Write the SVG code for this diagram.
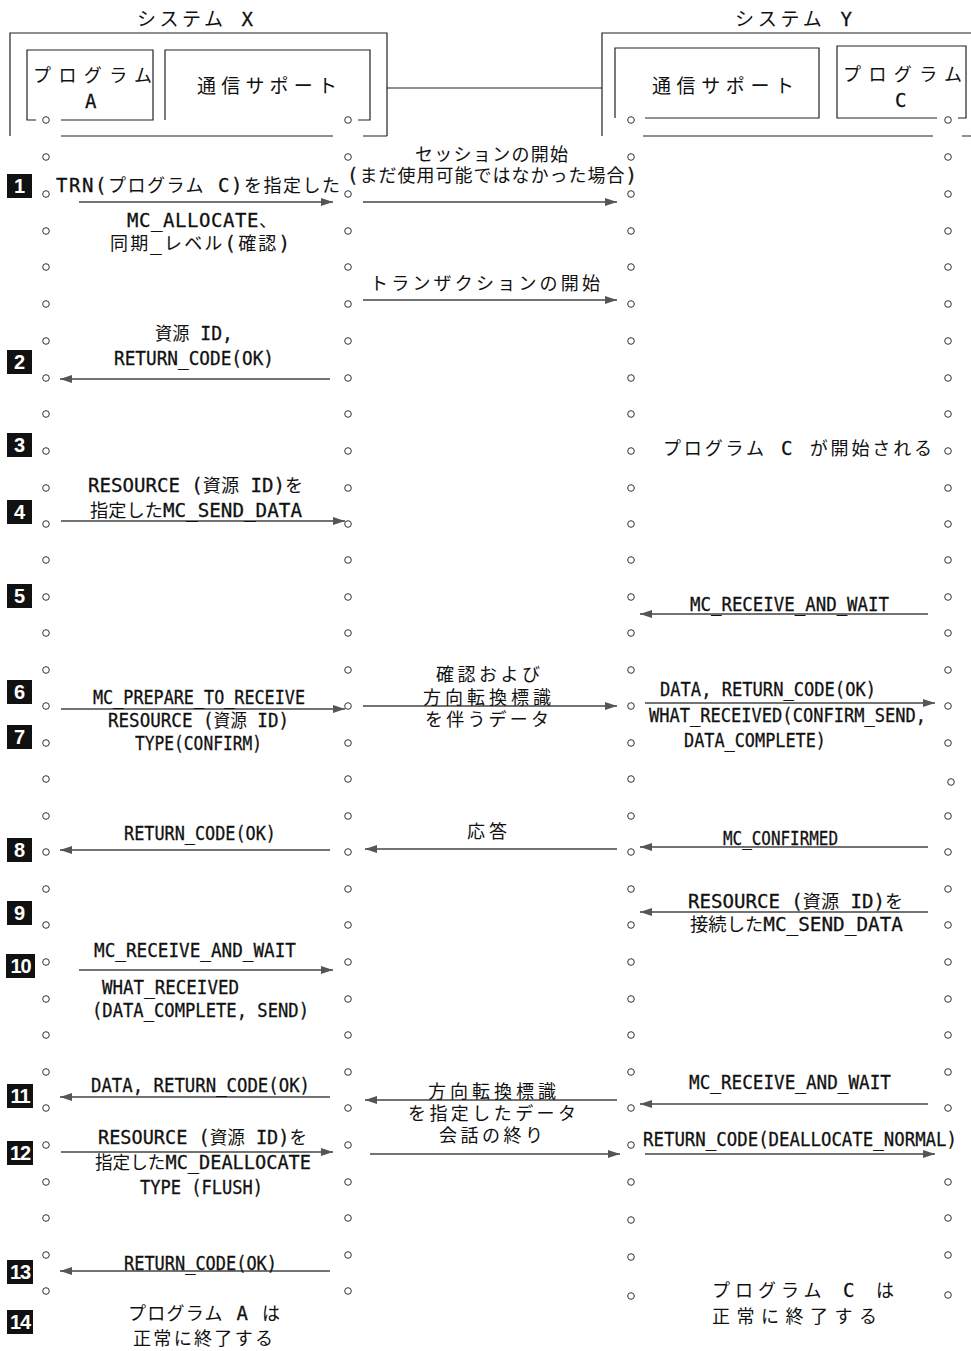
<svg xmlns="http://www.w3.org/2000/svg" width="971" height="1351" viewBox="0 0 971 1351">
<style>
.bg{fill:#fff}
.box{fill:none;stroke:#222;stroke-width:1.2}
.t{font-family:"Noto Sans CJK JP",sans-serif;font-size:18px;fill:#111}
.l{font-family:"DejaVu Sans Mono","Noto Sans CJK JP",monospace;font-size:19px;fill:#111;stroke:#111;stroke-width:0.3}
.j{font-family:"Noto Sans CJK JP",sans-serif;font-size:18px;stroke:none}
.a{stroke:#444;stroke-width:1.3;fill:none;marker-end:url(#ah)}
.dot{fill:#fff;stroke:#333;stroke-width:1}
.badge{fill:#111}
.bn{font-family:"Liberation Sans","Noto Sans",sans-serif;font-weight:bold;font-size:20px;fill:#fff;text-anchor:middle}
</style>
<defs>
<marker id="ah" markerUnits="userSpaceOnUse" markerWidth="13" markerHeight="9" refX="12" refY="4.5" orient="auto">
<path d="M0,0.5 L12,4.5 L0,8.5 z" fill="#555"/>
</marker>
<circle id="d" r="3.3" class="dot"/>
</defs>
<rect class="bg" x="0" y="0" width="971" height="1351"/>

<g id="systemX">
<text class="l" x="137" y="26" textLength="116" lengthAdjust="spacing"><tspan class="j" style="font-size:19px">システム</tspan> X</text>
<path class="box" d="M10,136 V33 H387 V136 M61,136 H333 M363,136 H387"/>
</g>
<g id="programA">
<path class="box" d="M36,120 H27 V50 H153 V120 H61"/>
<text class="t" x="33" y="82" textLength="119">プログラム</text>
<text class="l" x="85" y="108">A</text>
<use href="#d" x="46" y="120"/>
</g>
<g id="commX">
<path class="box" d="M165,120 V50 H370 V120 H358"/>
<text class="t" style="font-size:19px" x="197" y="93" textLength="140">通信サポート</text>
<use href="#d" x="348" y="120"/>
</g>
<g id="systemY">
<text class="l" x="735" y="26" textLength="117" lengthAdjust="spacing"><tspan class="j" style="font-size:19px">システム</tspan> Y</text>
<path class="box" d="M602,136 V33 H971 M643,136 H933 M962,136 H971"/>
</g>
<g id="commY">
<path class="box" d="M615,118 V48 H819 V118 H645"/>
<text class="t" style="font-size:19px" x="652" y="93" textLength="142">通信サポート</text>
<use href="#d" x="631" y="120"/>
</g>
<g id="programC">
<path class="box" d="M937,118 H837 V46 H966 V118 H958"/>
<text class="t" x="843" y="81" textLength="119">プログラム</text>
<text class="l" x="895" y="107">C</text>
<use href="#d" x="948" y="120"/>
</g>

<g id="lifelines">
<use href="#d" x="46" y="157"/><use href="#d" x="348" y="157"/><use href="#d" x="631" y="157"/><use href="#d" x="948" y="157"/>
<use href="#d" x="46" y="194"/><use href="#d" x="348" y="194"/><use href="#d" x="631" y="194"/><use href="#d" x="948" y="194"/>
<use href="#d" x="46" y="231"/><use href="#d" x="348" y="231"/><use href="#d" x="631" y="231"/><use href="#d" x="948" y="231"/>
<use href="#d" x="46" y="267"/><use href="#d" x="348" y="267"/><use href="#d" x="631" y="267"/><use href="#d" x="948" y="267"/>
<use href="#d" x="46" y="304"/><use href="#d" x="348" y="304"/><use href="#d" x="631" y="304"/><use href="#d" x="948" y="304"/>
<use href="#d" x="46" y="341"/><use href="#d" x="348" y="341"/><use href="#d" x="631" y="341"/><use href="#d" x="948" y="341"/>
<use href="#d" x="46" y="378"/><use href="#d" x="348" y="378"/><use href="#d" x="631" y="378"/><use href="#d" x="948" y="378"/>
<use href="#d" x="46" y="414"/><use href="#d" x="348" y="414"/><use href="#d" x="631" y="414"/><use href="#d" x="948" y="414"/>
<use href="#d" x="46" y="451"/><use href="#d" x="348" y="451"/><use href="#d" x="631" y="451"/><use href="#d" x="948" y="451"/>
<use href="#d" x="46" y="488"/><use href="#d" x="348" y="488"/><use href="#d" x="631" y="488"/><use href="#d" x="948" y="488"/>
<use href="#d" x="46" y="524"/><use href="#d" x="348" y="524"/><use href="#d" x="631" y="524"/><use href="#d" x="948" y="524"/>
<use href="#d" x="46" y="560"/><use href="#d" x="348" y="560"/><use href="#d" x="631" y="560"/><use href="#d" x="948" y="560"/>
<use href="#d" x="46" y="597"/><use href="#d" x="348" y="597"/><use href="#d" x="631" y="597"/><use href="#d" x="948" y="597"/>
<use href="#d" x="46" y="633"/><use href="#d" x="348" y="633"/><use href="#d" x="631" y="633"/><use href="#d" x="948" y="633"/>
<use href="#d" x="46" y="670"/><use href="#d" x="348" y="670"/><use href="#d" x="631" y="670"/><use href="#d" x="948" y="670"/>
<use href="#d" x="46" y="706"/><use href="#d" x="348" y="706"/><use href="#d" x="631" y="706"/><use href="#d" x="948" y="706"/>
<use href="#d" x="46" y="743"/><use href="#d" x="348" y="743"/><use href="#d" x="631" y="743"/><use href="#d" x="948" y="743"/>
<use href="#d" x="46" y="779"/><use href="#d" x="348" y="779"/><use href="#d" x="631" y="779"/><use href="#d" x="951" y="782"/>
<use href="#d" x="46" y="816"/><use href="#d" x="348" y="816"/><use href="#d" x="631" y="816"/><use href="#d" x="948" y="816"/>
<use href="#d" x="46" y="852"/><use href="#d" x="348" y="852"/><use href="#d" x="631" y="852"/><use href="#d" x="948" y="852"/>
<use href="#d" x="46" y="889"/><use href="#d" x="348" y="889"/><use href="#d" x="631" y="889"/><use href="#d" x="948" y="889"/>
<use href="#d" x="46" y="925"/><use href="#d" x="348" y="925"/><use href="#d" x="631" y="925"/><use href="#d" x="948" y="925"/>
<use href="#d" x="46" y="962"/><use href="#d" x="348" y="962"/><use href="#d" x="631" y="962"/><use href="#d" x="948" y="962"/>
<use href="#d" x="46" y="999"/><use href="#d" x="348" y="999"/><use href="#d" x="631" y="999"/><use href="#d" x="948" y="999"/>
<use href="#d" x="46" y="1035"/><use href="#d" x="348" y="1035"/><use href="#d" x="631" y="1035"/><use href="#d" x="948" y="1035"/>
<use href="#d" x="46" y="1072"/><use href="#d" x="348" y="1072"/><use href="#d" x="631" y="1072"/><use href="#d" x="948" y="1072"/>
<use href="#d" x="46" y="1108"/><use href="#d" x="348" y="1108"/><use href="#d" x="631" y="1108"/><use href="#d" x="948" y="1108"/>
<use href="#d" x="46" y="1145"/><use href="#d" x="348" y="1145"/><use href="#d" x="631" y="1145"/>
<use href="#d" x="46" y="1182"/><use href="#d" x="348" y="1182"/><use href="#d" x="631" y="1182"/><use href="#d" x="948" y="1182"/>
<use href="#d" x="46" y="1218"/><use href="#d" x="348" y="1218"/><use href="#d" x="631" y="1220"/><use href="#d" x="948" y="1218"/>
<use href="#d" x="46" y="1255"/><use href="#d" x="348" y="1255"/><use href="#d" x="631" y="1257"/><use href="#d" x="948" y="1255"/>
<use href="#d" x="46" y="1291"/><use href="#d" x="348" y="1291"/><use href="#d" x="631" y="1296"/><use href="#d" x="948" y="1295"/>
</g>

<g id="connectors">
<line class="box" x1="387" y1="88" x2="602" y2="88"/>
<line class="a" x1="79" y1="202" x2="333" y2="202"/>
<line class="a" x1="363" y1="202" x2="617" y2="202"/>
<line class="a" x1="363" y1="300" x2="617" y2="300"/>
<line class="a" x1="330" y1="379" x2="60" y2="379"/>
<line class="a" x1="61" y1="521" x2="345" y2="521"/>
<line class="a" x1="928" y1="614" x2="640" y2="614"/>
<line class="a" x1="61" y1="709" x2="345" y2="709"/>
<line class="a" x1="363" y1="706" x2="617" y2="706"/>
<line class="a" x1="645" y1="703" x2="935" y2="703"/>
<line class="a" x1="330" y1="850" x2="60" y2="850"/>
<line class="a" x1="617" y1="849" x2="365" y2="849"/>
<line class="a" x1="928" y1="847" x2="640" y2="847"/>
<line class="a" x1="928" y1="912" x2="640" y2="912"/>
<line class="a" x1="79" y1="970" x2="333" y2="970"/>
<line class="a" x1="330" y1="1097" x2="60" y2="1097"/>
<line class="a" x1="617" y1="1100" x2="365" y2="1100"/>
<line class="a" x1="928" y1="1104" x2="640" y2="1104"/>
<line class="a" x1="61" y1="1152" x2="333" y2="1152"/>
<line class="a" x1="370" y1="1154" x2="620" y2="1154"/>
<line class="a" x1="645" y1="1154" x2="935" y2="1154"/>
<line class="a" x1="330" y1="1271" x2="60" y2="1271"/>
</g>

<g id="labels">
<text class="t" x="415" y="161" textLength="153">セッションの開始</text>
<text class="l" x="347" y="182" textLength="290" lengthAdjust="spacing">(<tspan class="j">まだ使用可能ではなかった場合</tspan>)</text>
<text class="l" x="56" y="192" textLength="284" lengthAdjust="spacing">TRN(<tspan class="j">プログラム</tspan> C)<tspan class="j">を指定した</tspan></text>
<text class="l" x="127" y="227" textLength="150" lengthAdjust="spacing">MC_ALLOCATE<tspan class="j">、</tspan></text>
<text class="l" x="110" y="250" textLength="180" lengthAdjust="spacing"><tspan class="j">同期</tspan>_<tspan class="j">レベル</tspan>(<tspan class="j">確認</tspan>)</text>
<text class="t" x="370" y="290" textLength="230">トランザクションの開始</text>
<text class="l" x="155" y="340" textLength="78" lengthAdjust="spacingAndGlyphs"><tspan class="j">資源</tspan> ID,</text>
<text class="l" x="114" y="365" textLength="160" lengthAdjust="spacingAndGlyphs">RETURN_CODE(OK)</text>
<text class="l" x="663" y="455" textLength="269" lengthAdjust="spacing"><tspan class="j">プログラム</tspan> C <tspan class="j">が開始される</tspan></text>
<text class="l" x="88" y="492" textLength="215" lengthAdjust="spacingAndGlyphs">RESOURCE (<tspan class="j">資源</tspan> ID)<tspan class="j">を</tspan></text>
<text class="l" x="90" y="517" textLength="212" lengthAdjust="spacingAndGlyphs"><tspan class="j">指定した</tspan>MC_SEND_DATA</text>
<text class="l" x="690" y="611" textLength="199" lengthAdjust="spacingAndGlyphs">MC_RECEIVE_AND_WAIT</text>
<text class="t" x="436" y="681" textLength="104">確認および</text>
<text class="l" x="660" y="696" textLength="216" lengthAdjust="spacingAndGlyphs">DATA, RETURN_CODE(OK)</text>
<text class="l" x="93" y="704" textLength="212" lengthAdjust="spacingAndGlyphs">MC_PREPARE_TO_RECEIVE</text>
<text class="t" x="423" y="704" textLength="128">方向転換標識</text>
<text class="l" x="649" y="722" textLength="277" lengthAdjust="spacingAndGlyphs">WHAT_RECEIVED(CONFIRM_SEND,</text>
<text class="l" x="108" y="727" textLength="181" lengthAdjust="spacingAndGlyphs">RESOURCE (<tspan class="j">資源</tspan> ID)</text>
<text class="t" x="425" y="726" textLength="124">を伴うデータ</text>
<text class="l" x="684" y="747" textLength="142" lengthAdjust="spacingAndGlyphs">DATA_COMPLETE)</text>
<text class="l" x="135" y="750" textLength="127" lengthAdjust="spacingAndGlyphs">TYPE(CONFIRM)</text>
<text class="t" x="467" y="838" textLength="40">応答</text>
<text class="l" x="124" y="840" textLength="152" lengthAdjust="spacingAndGlyphs">RETURN_CODE(OK)</text>
<text class="l" x="723" y="845" textLength="115" lengthAdjust="spacingAndGlyphs">MC_CONFIRMED</text>
<text class="l" x="688" y="908" textLength="215" lengthAdjust="spacingAndGlyphs">RESOURCE (<tspan class="j">資源</tspan> ID)<tspan class="j">を</tspan></text>
<text class="l" x="690" y="931" textLength="213" lengthAdjust="spacingAndGlyphs"><tspan class="j">接続した</tspan>MC_SEND_DATA</text>
<text class="l" x="94" y="957" textLength="202" lengthAdjust="spacingAndGlyphs">MC_RECEIVE_AND_WAIT</text>
<text class="l" x="102" y="994" textLength="137" lengthAdjust="spacingAndGlyphs">WHAT_RECEIVED</text>
<text class="l" x="92" y="1017" textLength="217" lengthAdjust="spacingAndGlyphs">(DATA_COMPLETE, SEND)</text>
<text class="l" x="689" y="1089" textLength="202" lengthAdjust="spacingAndGlyphs">MC_RECEIVE_AND_WAIT</text>
<text class="l" x="91" y="1092" textLength="219" lengthAdjust="spacingAndGlyphs">DATA, RETURN_CODE(OK)</text>
<text class="t" x="428" y="1098" textLength="128">方向転換標識</text>
<text class="t" x="408" y="1120" textLength="168">を指定したデータ</text>
<text class="t" x="439" y="1142" textLength="104">会話の終り</text>
<text class="l" x="98" y="1144" textLength="209" lengthAdjust="spacingAndGlyphs">RESOURCE (<tspan class="j">資源</tspan> ID)<tspan class="j">を</tspan></text>
<text class="l" x="643" y="1146" textLength="314" lengthAdjust="spacingAndGlyphs">RETURN_CODE(DEALLOCATE_NORMAL)</text>
<text class="l" x="95" y="1169" textLength="216" lengthAdjust="spacingAndGlyphs"><tspan class="j">指定した</tspan>MC_DEALLOCATE</text>
<text class="l" x="140" y="1194" textLength="123" lengthAdjust="spacingAndGlyphs">TYPE (FLUSH)</text>
<text class="l" x="124" y="1270" textLength="153" lengthAdjust="spacingAndGlyphs">RETURN_CODE(OK)</text>
<text class="l" x="712" y="1297" textLength="182" lengthAdjust="spacing"><tspan class="j">プログラム</tspan> C <tspan class="j">は</tspan></text>
<text class="l" x="128" y="1320" textLength="152" lengthAdjust="spacing"><tspan class="j">プログラム</tspan> A <tspan class="j">は</tspan></text>
<text class="t" x="712" y="1323" textLength="165">正常に終了する</text>
<text class="t" x="133" y="1345" textLength="140">正常に終了する</text>
</g>

<g id="steps">
<rect class="badge" x="7" y="174" width="25" height="24"/><text class="bn" x="19.5" y="193">1</text>
<rect class="badge" x="7" y="350" width="25" height="24"/><text class="bn" x="19.5" y="369">2</text>
<rect class="badge" x="7" y="433" width="25" height="24"/><text class="bn" x="19.5" y="452">3</text>
<rect class="badge" x="7" y="500" width="25" height="24"/><text class="bn" x="19.5" y="519">4</text>
<rect class="badge" x="7" y="584" width="25" height="24"/><text class="bn" x="19.5" y="603">5</text>
<rect class="badge" x="7" y="680" width="25" height="24"/><text class="bn" x="19.5" y="699">6</text>
<rect class="badge" x="7" y="725" width="25" height="24"/><text class="bn" x="19.5" y="744">7</text>
<rect class="badge" x="7" y="838" width="25" height="24"/><text class="bn" x="19.5" y="857">8</text>
<rect class="badge" x="7" y="901" width="25" height="24"/><text class="bn" x="19.5" y="920">9</text>
<rect class="badge" x="6" y="954" width="29" height="24"/><text class="bn" x="20.5" y="973" letter-spacing="-1">10</text>
<rect class="badge" x="7" y="1084" width="26" height="24"/><text class="bn" x="20" y="1103" letter-spacing="-1">11</text>
<rect class="badge" x="7" y="1141" width="26" height="24"/><text class="bn" x="20" y="1160" letter-spacing="-1">12</text>
<rect class="badge" x="7" y="1260" width="26" height="24"/><text class="bn" x="20" y="1279" letter-spacing="-1">13</text>
<rect class="badge" x="7" y="1310" width="26" height="24"/><text class="bn" x="20" y="1329" letter-spacing="-1">14</text>
</g>
</svg>
